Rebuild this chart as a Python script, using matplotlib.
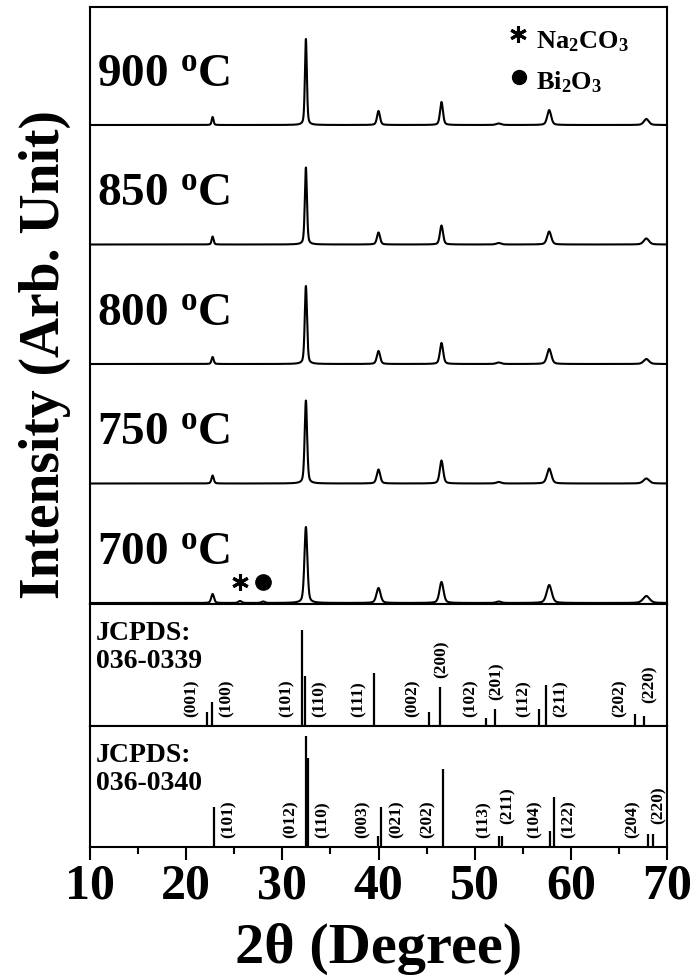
import numpy as np
import matplotlib.pyplot as plt
from matplotlib.ticker import MultipleLocator

plt.rcParams['font.family'] = ['Liberation Serif', 'DejaVu Serif']
plt.rcParams['font.weight'] = 'bold'
plt.rcParams['mathtext.fontset'] = 'custom'
plt.rcParams['mathtext.rm'] = 'Liberation Serif:bold'
plt.rcParams['mathtext.it'] = 'Liberation Serif:bold'
plt.rcParams['mathtext.bf'] = 'Liberation Serif:bold'

# XRD patterns (peak positions in 2theta, heights in arb. units, FWHM in degrees)
temps = ['700', '750', '800', '850', '900']
peak_pos = [22.75, 25.6, 28.0, 32.45, 40.0, 46.55, 52.5, 57.75, 67.85]
peak_h = {
    '700': [9, 2, 1.5, 76, 15, 21, 1.5, 18, 7],
    '750': [8, 0, 0, 83, 14, 23, 1.5, 15, 5],
    '800': [7, 0, 0, 78, 13, 21, 1.5, 15, 5],
    '850': [8, 0, 0, 77, 12, 19, 1.5, 13, 6],
    '900': [8, 0, 0, 86, 14, 23, 1.5, 15, 6],
}
peak_w = {
    '700': [0.34, 0.4, 0.4, 0.36, 0.5, 0.5, 0.6, 0.62, 0.8],
    '750': [0.28, 0.4, 0.4, 0.3, 0.42, 0.42, 0.6, 0.55, 0.7],
    '800': [0.26, 0.4, 0.4, 0.28, 0.4, 0.4, 0.6, 0.52, 0.65],
    '850': [0.24, 0.4, 0.4, 0.26, 0.38, 0.38, 0.6, 0.5, 0.65],
    '900': [0.22, 0.4, 0.4, 0.24, 0.36, 0.36, 0.6, 0.48, 0.6],
}
spacing = 119.5

# JCPDS 036-0339
ref1_pos = [22.13, 22.7, 32.0, 32.35, 39.5, 45.2, 46.4, 51.2, 52.1, 56.7, 57.4, 66.7, 67.6]
ref1_int = [15, 25, 100, 52, 55, 15, 41, 8, 18, 18, 43, 12, 10]
ref1_hkl = ['(001)', '(100)', '(101)', '(110)', '(111)', '(002)', '(200)',
            '(102)', '(201)', '(112)', '(211)', '(202)', '(220)']
ref1_side = ['L', 'R', 'L', 'R', 'L', 'L', 'T', 'L', 'T', 'L', 'R', 'L', 'U']

# JCPDS 036-0340
ref2_pos = [22.9, 32.47, 32.67, 39.95, 40.3, 46.7, 52.5, 52.8, 57.8, 58.2, 68.0, 68.5]
ref2_int = [36, 100, 80, 10, 36, 70, 10, 10, 14, 45, 12, 12]
ref2_hkl = ['(101)', '(012)', '(110)', '(003)', '(021)', '(202)', '(113)',
            '(211)', '(104)', '(122)', '(204)', '(220)']
ref2_side = ['R', 'L', 'R', 'L', 'R', 'L', 'L', 'U', 'L', 'R', 'L', 'U']


def profile(x, pos, h, w):
    y = np.zeros_like(x)
    for p, a, f in zip(pos, h, w):
        g = np.exp(-4 * np.log(2) * ((x - p) / f) ** 2)
        lo = 1 / (1 + 4 * ((x - p) / f) ** 2)
        y += a * (0.6 * g + 0.4 * lo)
    return y


fig = plt.figure(figsize=(6.95, 9.79), dpi=100)
L, W = 90 / 695, 577 / 695
ax1 = fig.add_axes([L, 374 / 979, W, 597 / 979])
ax2 = fig.add_axes([L, 252 / 979, W, 122 / 979], sharex=ax1)
ax3 = fig.add_axes([L, 131 / 979, W, 121 / 979], sharex=ax1)

x = np.arange(10, 70.001, 0.01)
for i, t in enumerate(temps):
    off = i * spacing
    ax1.plot(x, profile(x, peak_pos, peak_h[t], peak_w[t]) + off, color='black', lw=1.5)
    ax1.text(10.7, off + 40, t + r' $^{\mathrm{o}}$C', fontsize=34, fontweight='bold')
ax1.set_ylim(-1, 596)

# impurity markers
ax1.plot(25.6, 21, marker=(6, 2, 0), color='black', ms=12, mew=2.2)
ax1.plot(28.0, 21, marker='o', color='black', ms=11)
ax1.plot(54.5, 569, marker=(6, 2, 0), color='black', ms=12, mew=2.2)
ax1.plot(54.6, 526, marker='o', color='black', ms=10)
ax1.text(56.4, 556, r'$\mathrm{Na_2CO_3}$', fontsize=19)
ax1.text(56.4, 515, r'$\mathrm{Bi_2O_3}$', fontsize=19)


def sticks(ax, pos, inten, hkl, side, top, name):
    ax.vlines(pos, 0, inten, color='black', lw=1.6)
    ax.set_ylim(0, top)
    base = top * 0.08
    for p, h, lab, s in zip(pos, inten, hkl, side):
        if s == 'L':
            xx, yy = p - 1.6, base
        elif s == 'R':
            xx, yy = p + 1.55, base
        elif s == 'T':
            xx, yy = p + 0.15, h + top * 0.08
        else:
            xx, yy = p + 0.6, base + top * 0.12
        ax.text(xx, yy, lab, rotation=90, ha='center', va='bottom', fontsize=12.5)
    ax.text(0.01, 0.87, 'JCPDS:\n' + name, transform=ax.transAxes, ha='left', va='top',
            fontsize=20, linespacing=1.15)


sticks(ax2, ref1_pos, ref1_int, ref1_hkl, ref1_side, 127, '036-0339')
sticks(ax3, ref2_pos, ref2_int, ref2_hkl, ref2_side, 109, '036-0340')

for ax in (ax1, ax2, ax3):
    for sp in ax.spines.values():
        sp.set_linewidth(1.5)
    ax.set_yticks([])
    ax.tick_params(axis='x', which='both', bottom=False, labelbottom=False)

ax1.set_xlim(10, 70)
ax3.xaxis.set_major_locator(MultipleLocator(10))
ax3.xaxis.set_minor_locator(MultipleLocator(5))
ax3.tick_params(axis='x', which='major', bottom=True, labelbottom=True, direction='out',
                length=9, width=1.5, labelsize=36, pad=2)
ax3.tick_params(axis='x', which='minor', bottom=True, direction='out', length=5, width=1.5)
for lab in ax3.get_xticklabels():
    lab.set_fontweight('bold')
ax3.set_xlabel('2θ (Degree)', fontsize=42, fontweight='bold', labelpad=10)
fig.text(45 / 695, 1 - 355 / 979, 'Intensity (Arb. Unit)', rotation=90, ha='center',
         va='center', fontsize=40, fontweight='bold')

fig.savefig('out.png', dpi=100)
